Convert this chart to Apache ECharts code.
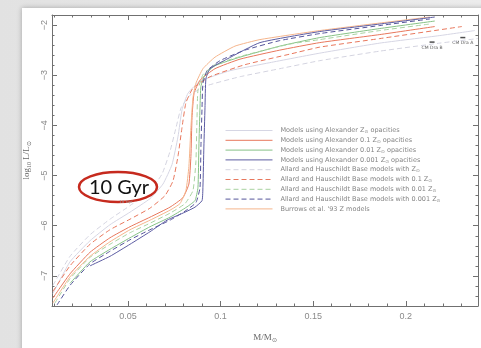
<!DOCTYPE html>
<html>
<head>
<meta charset="utf-8">
<script src="https://cdn.jsdelivr.net/npm/echarts@6/dist/echarts.min.js"></script>
<style>
  html, body { margin: 0; padding: 0; width: 481px; height: 348px; overflow: hidden;
    background: linear-gradient(90deg, #e2e2e2, #ececec); }
  #card { position: absolute; left: 22px; top: 8px; width: 480px; height: 360px; background: #fff;
    box-shadow: 0 0 5px rgba(0,0,0,0.28); }
  #chart { position: absolute; left: 0; top: 0; width: 481px; height: 348px; }
</style>
</head>
<body>
<div id="card"></div>
<div id="chart"></div>
<script>
// ── Axis ticks ──
const X_MAJOR = [0.05, 0.1, 0.15, 0.2];
const X_MINOR = [0.01, 0.02, 0.03, 0.04, 0.05, 0.06, 0.07, 0.08, 0.09, 0.1, 0.11, 0.12,
                 0.13, 0.14, 0.15, 0.16, 0.17, 0.18, 0.19, 0.2, 0.21, 0.22, 0.23];
const Y_MAJOR = [-7, -6, -5, -4, -3, -2];

// ── Model tracks at 10 Gyr: [M/Msun, log L/Lsun] ──
const alexZ = [[0.0095,-7.35],[0.0187,-6.72],[0.0295,-6.30],[0.0403,-5.98],[0.0511,-5.73],[0.0619,-5.46],
  [0.0689,-5.17],[0.0738,-4.78],[0.0770,-4.23],[0.0792,-3.69],[0.0824,-3.36],[0.0889,-3.12],[0.1051,-2.91],
  [0.1266,-2.75],[0.1536,-2.56],[0.1860,-2.36],[0.2184,-2.21],[0.2373,-2.11]];
const alex01 = [[0.0095,-7.44],[0.0187,-6.96],[0.0295,-6.53],[0.0403,-6.24],[0.0511,-6.02],[0.0619,-5.83],
  [0.0727,-5.63],[0.0797,-5.44],[0.0829,-5.17],[0.0840,-4.62],[0.0846,-3.84],[0.0857,-3.36],[0.0889,-3.10],
  [0.0970,-2.87],[0.1105,-2.68],[0.1320,-2.50],[0.1536,-2.35],[0.1860,-2.19],[0.2157,-2.03]];
const alex001 = [[0.0187,-7.15],[0.0295,-6.72],[0.0403,-6.47],[0.0511,-6.24],[0.0619,-6.02],[0.0727,-5.83],
  [0.0808,-5.65],[0.0862,-5.50],[0.0878,-5.24],[0.0883,-4.43],[0.0889,-3.65],[0.0894,-3.22],[0.0916,-2.99],
  [0.0970,-2.81],[0.1105,-2.64],[0.1320,-2.42],[0.1536,-2.25],[0.1860,-2.07],[0.2157,-1.92]];
const alex0001 = [[0.0295,-6.80],[0.0403,-6.61],[0.0511,-6.37],[0.0619,-6.12],[0.0711,-5.89],[0.0808,-5.73],
  [0.0862,-5.63],[0.0900,-5.50],[0.0905,-5.21],[0.0910,-4.43],[0.0916,-3.65],[0.0921,-3.07],[0.0943,-2.87],
  [0.1034,-2.68],[0.1213,-2.35],[0.1536,-2.13],[0.1860,-1.98],[0.2157,-1.84]];
const allardZ = [[0.0095,-7.19],[0.0187,-6.61],[0.0295,-6.18],[0.0403,-5.87],[0.0511,-5.60],[0.0619,-5.30],
  [0.0684,-4.97],[0.0727,-4.52],[0.0760,-4.04],[0.0787,-3.65],[0.0835,-3.40],[0.0916,-3.22],[0.1105,-3.03],
  [0.1320,-2.87],[0.1536,-2.71],[0.1860,-2.52],[0.2184,-2.36],[0.2389,-2.27]];
const allard01 = [[0.0095,-7.31],[0.0187,-6.80],[0.0295,-6.37],[0.0403,-6.08],[0.0511,-5.87],[0.0619,-5.65],
  [0.0700,-5.40],[0.0743,-5.11],[0.0770,-4.62],[0.0792,-4.04],[0.0813,-3.55],[0.0851,-3.26],[0.0943,-3.03],
  [0.1132,-2.79],[0.1374,-2.58],[0.1536,-2.44],[0.1860,-2.27],[0.2303,-2.03]];
const allard001 = [[0.0106,-7.54],[0.0187,-7.06],[0.0295,-6.63],[0.0403,-6.37],[0.0511,-6.14],[0.0619,-5.95],
  [0.0727,-5.75],[0.0808,-5.56],[0.0851,-5.30],[0.0867,-4.72],[0.0873,-3.84],[0.0878,-3.30],[0.0905,-2.99],
  [0.0970,-2.79],[0.1132,-2.60],[0.1374,-2.38],[0.1536,-2.29],[0.1860,-2.11],[0.2130,-1.98]];
const allard0001 = [[0.0117,-7.58],[0.0187,-7.19],[0.0295,-6.76],[0.0403,-6.51],[0.0511,-6.28],[0.0619,-6.08],
  [0.0727,-5.89],[0.0808,-5.71],[0.0867,-5.54],[0.0889,-5.24],[0.0894,-4.43],[0.0900,-3.65],[0.0905,-3.16],
  [0.0927,-2.91],[0.0997,-2.71],[0.1132,-2.50],[0.1320,-2.31],[0.1536,-2.17],[0.1860,-2.01],[0.2130,-1.88]];
const burrows = [[0.0095,-7.54],[0.0187,-7.02],[0.0295,-6.61],[0.0403,-6.32],[0.0511,-6.08],[0.0619,-5.89],
  [0.0727,-5.69],[0.0781,-5.56],[0.0813,-5.30],[0.0829,-4.82],[0.0840,-4.04],[0.0851,-3.45],[0.0867,-3.16],
  [0.0905,-2.87],[0.0970,-2.64],[0.1078,-2.42],[0.1213,-2.29],[0.1536,-2.11],[0.1860,-1.96],[0.2130,-1.84]];

// ── CM Dra components ──
const cmDra = [[0.2142, -2.34, 'CM Dra B'], [0.2308, -2.25, 'CM Dra A']];

const LEGEND_NAMES = [
  'Models using Alexander Z⊙ opacities',
  'Models using Alexander 0.1 Z⊙ opacities',
  'Models using Alexander 0.01 Z⊙ opacities',
  'Models using Alexander 0.001 Z⊙ opacities',
  'Allard and Hauschildt Base models with Z⊙',
  'Allard and Hauschildt Base models with 0.1 Z⊙',
  'Allard and Hauschildt Base models with 0.01 Z⊙',
  'Allard and Hauschildt Base models with 0.001 Z⊙',
  "Burrows et al. '93 Z models",
];
const TRACKS = [alexZ, alex01, alex001, alex0001, allardZ, allard01, allard001, allard0001, burrows];
const COLORS = ['#d6d6e4', '#e8775c', '#86c286', '#5c5ca2', '#d4d4e0', '#e8775c', '#a8d3a0', '#55559a', '#f5b58c'];
const DASHED = [false, false, false, false, true, true, true, true, false];

const AXIS_C = '#707070';
const LABEL_C = '#8a8a8a';

const chart = echarts.init(document.getElementById('chart'));

const xBase = { type: 'value', min: 0.009, max: 0.239, splitLine: { show: false } };
const yBase = { type: 'value', min: -7.6, max: -1.8, splitLine: { show: false } };

const lineSeries = TRACKS.map((d, i) => ({
  name: LEGEND_NAMES[i], type: 'line', data: d, smooth: 0.15, symbol: 'none',
  xAxisIndex: 0, yAxisIndex: 0,
  lineStyle: { color: COLORS[i], width: 1, type: DASHED[i] ? [5, 3] : 'solid' },
  itemStyle: { color: COLORS[i] },
  z: i === 3 ? 4 : 3,
}));

chart.setOption({
  animation: false,
  backgroundColor: 'transparent',
  grid: { left: 52, right: 3, top: 15, bottom: 35 },
  legend: {
    orient: 'vertical', left: 220, top: 122, selectedMode: false,
    data: LEGEND_NAMES, itemWidth: 47, itemHeight: 6, itemGap: 2.3,
    itemStyle: { opacity: 0 },
    lineStyle: { width: 1 },
    formatter: n => n.replace('⊙', '{s|⊙}'),
    textStyle: { fontFamily: 'DejaVu Sans', fontSize: 6.5, color: '#858585', lineHeight: 7, padding: [0, 0, 0, 3],
      rich: { s: { fontSize: 4.6, color: '#858585', padding: [3, 0, 0, 0] } } },
  },
  xAxis: [
    { ...xBase, position: 'bottom',
      name: '{a|M/M}{b|⊙}', nameLocation: 'middle', nameGap: 26,
      nameTextStyle: { rich: { a: { fontFamily: 'Liberation Serif', fontSize: 9, color: '#666' },
                               b: { fontFamily: 'Liberation Serif', fontSize: 6, color: '#666', padding: [5, 0, 0, 0] } } },
      axisLine: { show: true, onZero: false, lineStyle: { color: AXIS_C, width: 1 } },
      axisTick: { show: true, inside: true, length: 5, customValues: X_MAJOR, lineStyle: { color: AXIS_C } },
      axisLabel: { customValues: X_MAJOR, color: LABEL_C, fontSize: 9, fontFamily: 'Liberation Sans', margin: 6,
                   formatter: v => String(v) } },
    { ...xBase, position: 'bottom',
      axisLine: { show: false }, axisLabel: { show: false },
      axisTick: { show: true, inside: true, length: 2.5, customValues: X_MINOR, lineStyle: { color: AXIS_C } } },
    { ...xBase, position: 'top',
      axisLine: { show: true, onZero: false, lineStyle: { color: AXIS_C, width: 1 } }, axisLabel: { show: false },
      axisTick: { show: true, inside: true, length: 5, customValues: X_MAJOR, lineStyle: { color: AXIS_C } } },
    { ...xBase, position: 'top',
      axisLine: { show: false }, axisLabel: { show: false },
      axisTick: { show: true, inside: true, length: 2.5, customValues: X_MINOR, lineStyle: { color: AXIS_C } } },
  ],
  yAxis: [
    { ...yBase, position: 'left',
      name: '{a|log}{b|10}{a| L/L}{b|⊙}', nameLocation: 'middle', nameGap: 20, nameRotate: 90,
      nameTextStyle: { rich: { a: { fontFamily: 'Liberation Serif', fontSize: 9, color: '#666' },
                               b: { fontFamily: 'Liberation Serif', fontSize: 6, color: '#666', padding: [5, 0, 0, 0] } } },
      axisLine: { show: true, onZero: false, lineStyle: { color: AXIS_C, width: 1 } },
      axisTick: { show: true, inside: true, length: 5, customValues: Y_MAJOR, lineStyle: { color: AXIS_C } },
      axisLabel: { customValues: Y_MAJOR, rotate: 90, color: LABEL_C, fontSize: 9, fontFamily: 'Liberation Sans', margin: 3,
                   formatter: v => String(v).replace('-', '−') } },
    { ...yBase, position: 'left', interval: 0.2,
      axisLine: { show: false }, axisLabel: { show: false },
      axisTick: { show: true, inside: true, length: 2.5, lineStyle: { color: AXIS_C } } },
    { ...yBase, position: 'right',
      axisLine: { show: true, onZero: false, lineStyle: { color: AXIS_C, width: 1 } }, axisLabel: { show: false },
      axisTick: { show: true, inside: true, length: 5, customValues: Y_MAJOR, lineStyle: { color: AXIS_C } } },
    { ...yBase, position: 'right', interval: 0.2,
      axisLine: { show: false }, axisLabel: { show: false },
      axisTick: { show: true, inside: true, length: 2.5, lineStyle: { color: AXIS_C } } },
  ],
  series: [
    ...lineSeries,
    { name: 'CM Dra', type: 'scatter', data: cmDra, xAxisIndex: 0, yAxisIndex: 0,
      symbol: 'rect', symbolSize: [5, 1.5], itemStyle: { color: '#222' },
      label: { show: true, position: 'bottom', distance: 2, fontSize: 4.5, color: '#333',
               fontFamily: 'DejaVu Sans', formatter: p => p.data[2] } },
  ],
  graphic: [
    { type: 'ellipse', z: 100, shape: { cx: 118, cy: 187, rx: 39, ry: 15 },
      style: { fill: '#fff', stroke: '#c62a1e', lineWidth: 2.5 } },
    { type: 'text', z: 101, x: 119, y: 188,
      style: { text: '10 Gyr', font: '20px Lato', fill: '#111', align: 'center', verticalAlign: 'middle' } },
    { type: 'text', z: 101, x: 126, y: 202,
      style: { text: '10 Gyr', font: '4px DejaVu Sans', fill: '#999', align: 'center', verticalAlign: 'middle' } },
  ],
});
</script>
</body>
</html>
